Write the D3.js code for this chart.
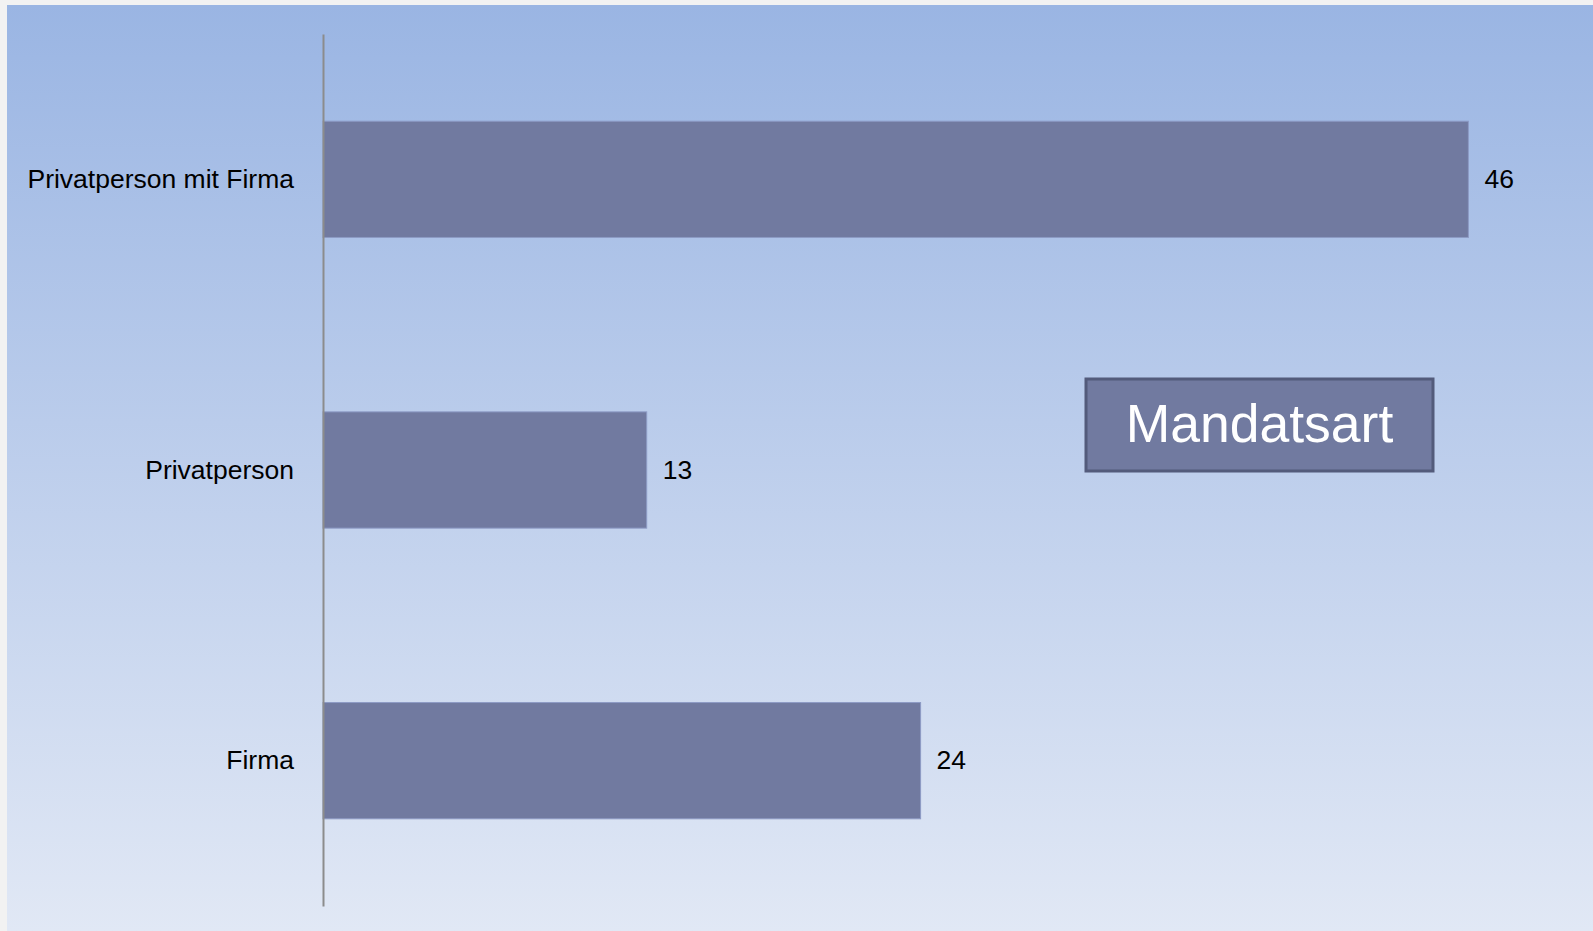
<!DOCTYPE html>
<html>
<head>
<meta charset="utf-8">
<script src="https://cdn.jsdelivr.net/npm/d3@7"></script>
<style>
  html, body { margin: 0; padding: 0; background: #f2f2f2; }
  svg { display: block; }
</style>
</head>
<body>
<script>
var width = 1593,
    height = 931;

// data
var categories = ["Privatperson mit Firma", "Privatperson", "Firma"];
var values = [46, 13, 24];
var title = "Mandatsart";

var svg = d3.select("body").append("svg")
    .attr("width", width)
    .attr("height", height);

// background gradient
var defs = svg.append("defs");
var grad = defs.append("linearGradient")
    .attr("id", "bg")
    .attr("x1", 0).attr("y1", 0)
    .attr("x2", 0).attr("y2", 1);
grad.append("stop").attr("offset", "0%").attr("stop-color", "#9ab5e3");
grad.append("stop").attr("offset", "100%").attr("stop-color", "#e1e8f5");

svg.append("rect")
    .attr("width", width).attr("height", height)
    .attr("fill", "#f2f2f2");
svg.append("rect")
    .attr("x", 7).attr("y", 5)
    .attr("width", width - 7).attr("height", height - 5)
    .attr("fill", "url(#bg)");

var x = d3.scaleLinear()
    .domain([0, 50])
    .range([323, 1568]);

var y = d3.scaleBand()
    .domain(categories)
    .range([34, 906])
    .paddingInner(0.6)
    .paddingOuter(0.3);

// bars
svg.append("g")
    .selectAll("rect")
    .data(values)
    .enter().append("rect")
    .attr("x", x(0))
    .attr("y", function(d, i) { return y(categories[i]); })
    .attr("width", function(d) { return x(d) - x(0); })
    .attr("height", y.bandwidth())
    .attr("fill", "#717aa0")
    .attr("stroke", "#8d9bc5")
    .attr("stroke-width", 1);

// value labels
svg.append("g")
    .selectAll("text")
    .data(values)
    .enter().append("text")
    .attr("x", function(d) { return x(d) + 16; })
    .attr("y", function(d, i) { return y(categories[i]) + y.bandwidth() / 2; })
    .attr("dy", "0.33em")
    .attr("font-family", "'Liberation Sans', Arial, sans-serif")
    .attr("font-size", 26.5)
    .attr("fill", "#000")
    .text(function(d) { return d; });

// category axis
var axis = svg.append("g")
    .attr("transform", "translate(" + x(0) + ",0)")
    .call(d3.axisLeft(y).tickSize(0).tickSizeOuter(0).tickPadding(29));
axis.select(".domain")
    .attr("stroke", "#8c8c8c")
    .attr("stroke-width", 2);
axis.selectAll("text")
    .attr("font-family", "'Liberation Sans', Arial, sans-serif")
    .attr("font-size", 26.5)
    .attr("fill", "#000")
    .attr("dy", "0.33em");

// title box
var tg = svg.append("g");
tg.append("rect")
    .attr("x", 1086).attr("y", 379)
    .attr("width", 347).attr("height", 92)
    .attr("fill", "#717aa0")
    .attr("stroke", "#535b7b")
    .attr("stroke-width", 3);
tg.append("text")
    .attr("x", 1259.5)
    .attr("y", 442)
    .attr("text-anchor", "middle")
    .attr("font-family", "'Liberation Sans', Arial, sans-serif")
    .attr("font-size", 53.5)
    .attr("fill", "#ffffff")
    .text(title);
</script>
</body>
</html>
